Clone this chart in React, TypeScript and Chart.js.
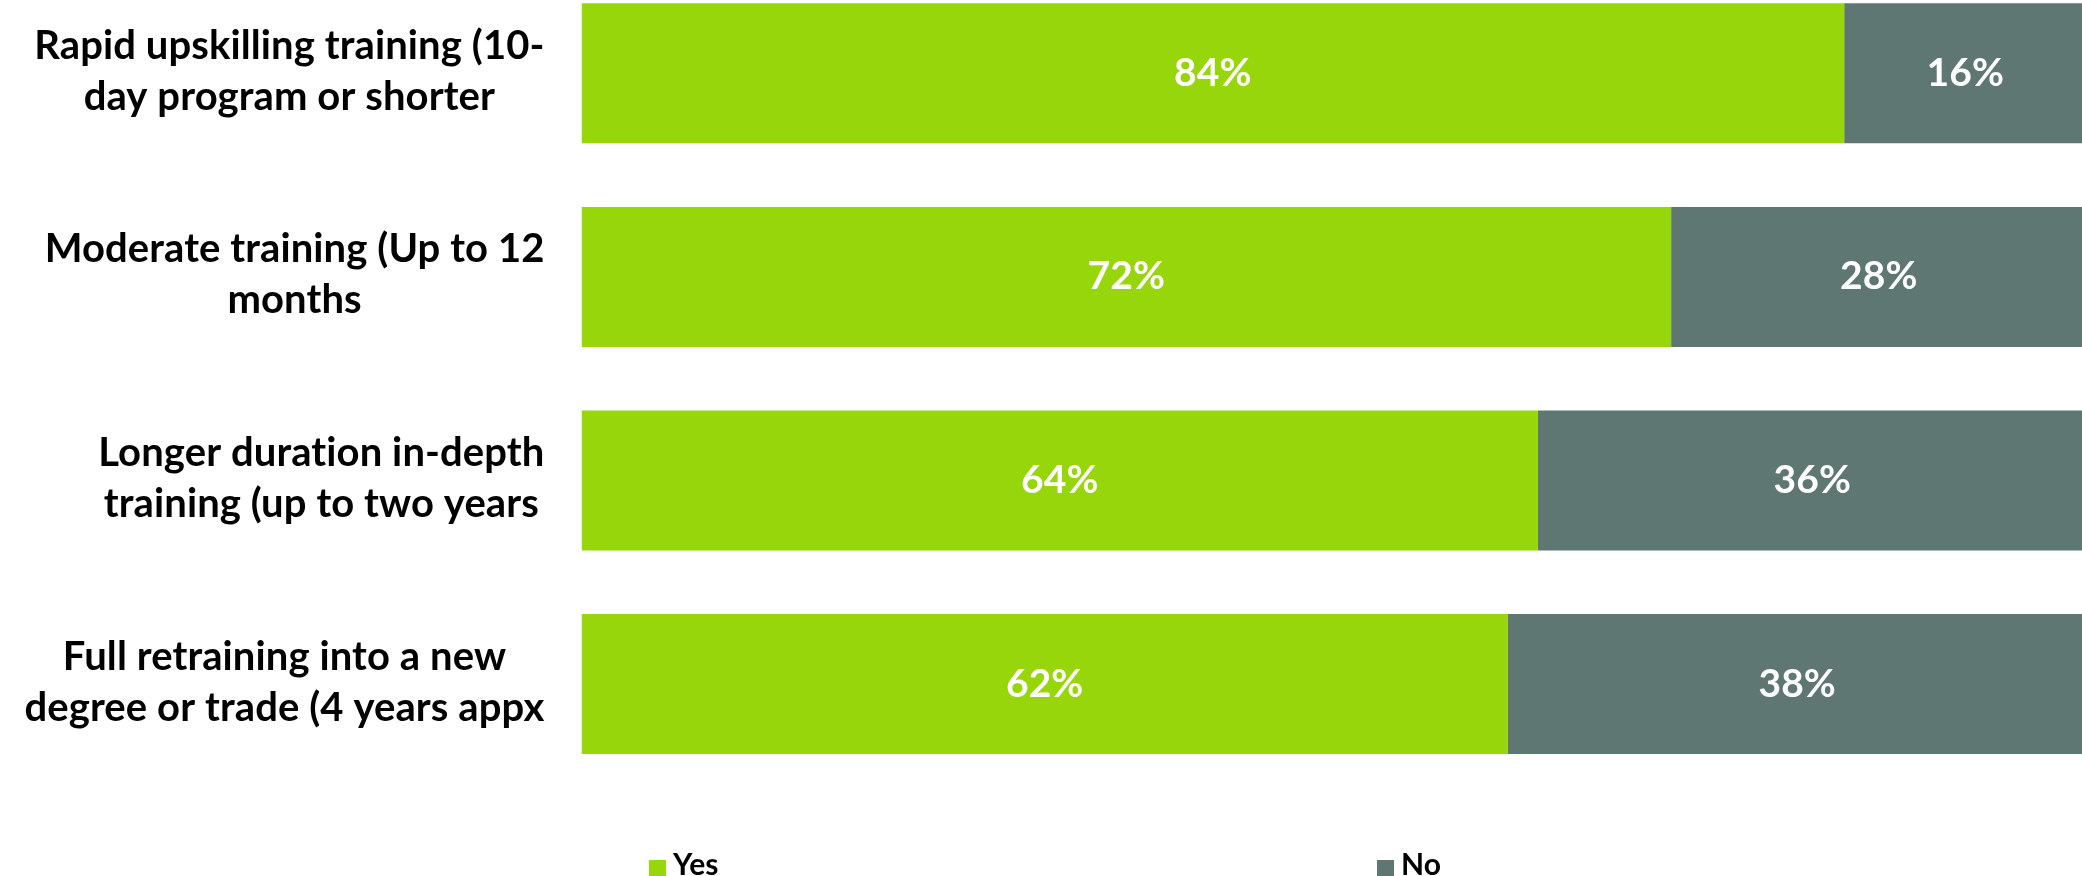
import React, { useEffect, useRef } from "react";
import { Chart, registerables } from "chart.js";

Chart.register(...registerables);

// ---- data ----
const categories: string[][] = [
  ["Rapid upskilling training (10-", "day program or shorter"],
  ["Moderate training (Up to 12", "months"],
  ["Longer duration in-depth", "training (up to two years"],
  ["Full retraining into a new", "degree or trade (4 years appx"],
];
const seriesNames = ["Yes", "No"];
const yesValues = [83.9, 72.4, 63.55, 61.55];
const noValues = [16.1, 27.6, 36.45, 38.45];
const seriesColors = ["#97d60a", "#5f7773"];

// ---- style constants ----
const FONT = "Lato, 'Open Sans', sans-serif";
const LABEL_SIZE = 40;
const LABEL_LINE = 51;
const LABEL_SHIFT = -2;
const LABEL_GAP = 37;
const VALUE_SIZE = 39;
const LEGEND_SIZE = 30;
const LEGEND_X = [649, 1377];

const textPlugin = {
  id: "customText",
  afterDatasetsDraw(chart: any) {
    const { ctx, chartArea } = chart;
    const yScale = chart.scales.y;
    ctx.save();
    try {
      (ctx as any).letterSpacing = "0.1px";
    } catch (e) {
      /* ignore */
    }

    // category labels: block right-aligned, lines centred inside the block
    ctx.font = `bold ${LABEL_SIZE}px ${FONT}`;
    ctx.fillStyle = "#000000";
    ctx.textAlign = "center";
    ctx.textBaseline = "middle";
    (chart.data.labels as string[][]).forEach((lines, i) => {
      const y = yScale.getPixelForValue(i) + LABEL_SHIFT;
      const maxW = Math.max(...lines.map((l) => ctx.measureText(l).width));
      const cx = chartArea.left - LABEL_GAP - maxW / 2;
      lines.forEach((l, j) => {
        ctx.fillText(l, cx, y + (j - (lines.length - 1) / 2) * LABEL_LINE);
      });
    });

    // value labels
    ctx.font = `bold ${VALUE_SIZE}px ${FONT}`;
    ctx.fillStyle = "#ffffff";
    chart.data.datasets.forEach((ds: any, di: number) => {
      const meta = chart.getDatasetMeta(di);
      meta.data.forEach((el: any, i: number) => {
        const p = el.getProps(["x", "y", "base"], true);
        const v = ds.data[i] as number;
        ctx.fillText(`${Math.round(v)}%`, (p.x + p.base) / 2, p.y);
      });
    });

    // legend
    ctx.textAlign = "left";
    ctx.textBaseline = "alphabetic";
    ctx.font = `bold ${LEGEND_SIZE}px ${FONT}`;
    chart.data.datasets.forEach((ds: any, di: number) => {
      const x = LEGEND_X[di];
      ctx.fillStyle = ds.backgroundColor;
      ctx.fillRect(x, chart.height - 16, 17, 17);
      ctx.fillStyle = "#000000";
      ctx.fillText(ds.label, x + 24, chart.height - 1);
    });
    ctx.restore();
  },
};

export default function App() {
  const ref = useRef<HTMLCanvasElement | null>(null);

  useEffect(() => {
    if (!ref.current) return;
    const chart = new Chart(ref.current, {
      type: "bar",
      data: {
        labels: categories as any,
        datasets: [
          {
            label: seriesNames[0],
            data: yesValues,
            backgroundColor: seriesColors[0],
            borderWidth: 0,
            barPercentage: 0.6877,
            categoryPercentage: 1,
          },
          {
            label: seriesNames[1],
            data: noValues,
            backgroundColor: seriesColors[1],
            borderWidth: 0,
            barPercentage: 0.6877,
            categoryPercentage: 1,
          },
        ],
      },
      options: {
        indexAxis: "y",
        responsive: false,
        maintainAspectRatio: false,
        animation: false,
        layout: { padding: { left: 0, right: 3.5, top: 11.5, bottom: 90.1 } },
        plugins: {
          legend: { display: false },
          tooltip: { enabled: false },
        },
        scales: {
          x: { stacked: true, min: 0, max: 100, display: false },
          y: {
            stacked: true,
            grid: { display: false, drawTicks: false },
            border: { display: false },
            ticks: { display: false },
            afterFit: (s: any) => {
              s.width = 581.5;
            },
          },
        },
      },
      plugins: [textPlugin],
    });
    return () => chart.destroy();
  }, []);

  return (
    <div
      style={{
        position: "fixed",
        left: 0,
        top: 0,
        width: 2082,
        height: 876,
        overflow: "hidden",
        background: "#ffffff",
      }}
    >
      <canvas
        ref={ref}
        width={2090}
        height={916}
        style={{ position: "absolute", left: 0, top: -40, width: 2090, height: 916 }}
      />
    </div>
  );
}
